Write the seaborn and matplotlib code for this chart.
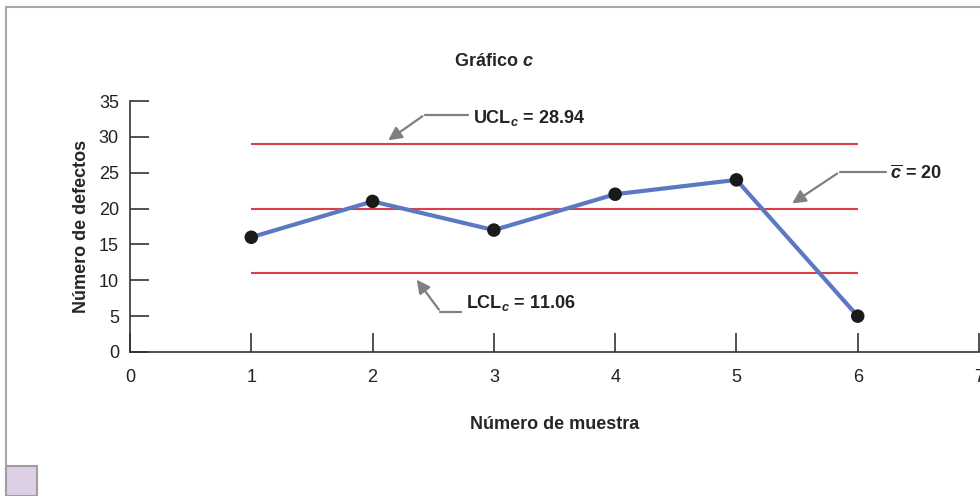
import numpy as np
import matplotlib
matplotlib.use("Agg")
import matplotlib.pyplot as plt
import seaborn as sns
from matplotlib.patches import Rectangle

# data
samples = [1, 2, 3, 4, 5, 6]
defects = [16, 21, 17, 22, 24, 5]
ucl = 28.94
center = 20
lcl = 11.06
x_ticks = [0, 1, 2, 3, 4, 5, 6, 7]
y_ticks = [0, 5, 10, 15, 20, 25, 30, 35]

sns.set_style("white")
plt.rcParams['font.family'] = ['Liberation Sans', 'DejaVu Sans']
plt.rcParams['mathtext.fontset'] = 'custom'
plt.rcParams['mathtext.it'] = 'Liberation Sans:italic:bold'
plt.rcParams['mathtext.bfit'] = 'Liberation Sans:italic:bold'
plt.rcParams['mathtext.rm'] = 'Liberation Sans:bold'
plt.rcParams['mathtext.bf'] = 'Liberation Sans:bold'

fig = plt.figure(figsize=(9.8, 4.96), dpi=100)
ax = fig.add_axes([130 / 980, 1 - 352 / 496, 849 / 980, 251 / 496])

# outer frame and little swatch
fig.patches.append(Rectangle((6 / 980, -0.1), 1.1, 1 - 7 / 496 + 0.1, transform=fig.transFigure,
                             fill=False, edgecolor='#a8a8a8', lw=1.5, zorder=0))
fig.patches.append(Rectangle((6 / 980, 0), 31 / 980, 30 / 496, transform=fig.transFigure,
                             facecolor='#ddd0e6', edgecolor='#a0a0a0', lw=1.5, zorder=1))

ax.hlines([ucl, center, lcl], samples[0], samples[-1], color='#d9404a', lw=1.5, zorder=1)
sns.lineplot(x=samples, y=defects, color='#5b78c2', lw=3, ax=ax, zorder=2)
sns.scatterplot(x=samples, y=defects, color='#1a1a1a', s=95, edgecolor='none', ax=ax, zorder=3)

ax.set_xlim(0, 7)
ax.set_ylim(0, 35)
ax.set_xticks(x_ticks)
ax.set_yticks(y_ticks)
ax.tick_params(bottom=True, left=True, direction='in', length=14, width=1.2, color='#333333',
               labelsize=13, labelcolor='#222222')
ax.tick_params(axis='x', pad=12)
ax.tick_params(axis='y', pad=8)
sns.despine(ax=ax)
for s in ['left', 'bottom']:
    ax.spines[s].set_color('#333333')
    ax.spines[s].set_linewidth(1.2)
ax.set_facecolor('none')

ax.set_xlabel('Número de muestra', fontsize=13, fontweight='bold', labelpad=22)
ax.set_ylabel('Número de defectos', fontsize=13, fontweight='bold', labelpad=6)
ax.text(3, 40.5, r'Gráfico $\mathbfit{c}$', ha='center', va='center', fontsize=13,
        fontweight='bold', clip_on=False)

arrow_kw = dict(arrowstyle='-|>', color='#808080', lw=1.6, mutation_scale=20)


def callout(label, text_xy, knee, tip):
    ax.annotate('', xy=tip, xytext=knee, arrowprops=arrow_kw)
    ax.plot([knee[0], text_xy[0] - 0.04], [knee[1], knee[1]], color='#808080', lw=1.6)
    ax.text(text_xy[0], text_xy[1], label, ha='left', va='center', fontsize=13,
            fontweight='bold', color='#222222')


callout(r'UCL$_{\mathbfit{c}}$ = 28.94', (2.83, 32.6), (2.43, 33.1), (2.11, 29.3))
callout(r'$\overline{\mathbfit{c}}$ = 20', (6.27, 24.9), (5.85, 25.1), (5.44, 20.5))
callout(r'LCL$_{\mathbfit{c}}$ = 11.06', (2.77, 6.9), (2.56, 5.6), (2.35, 10.4))

fig.savefig('out.png', dpi=100)
